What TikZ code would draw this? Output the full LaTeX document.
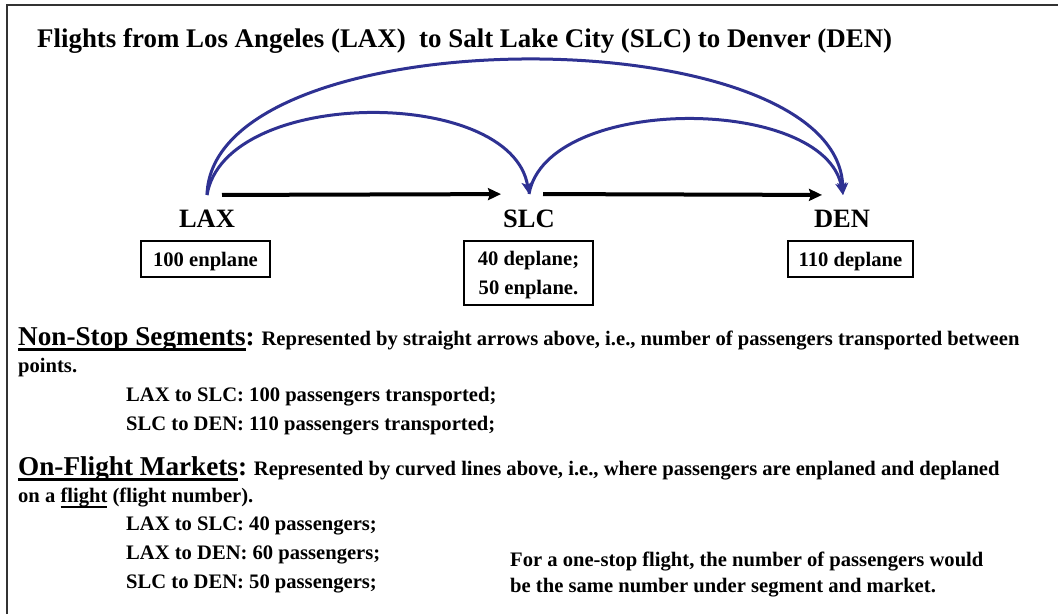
\documentclass[tikz,border=0pt]{standalone}
\usepackage{fontspec}
\setmainfont{Liberation Serif}
\usetikzlibrary{arrows.meta}
\definecolor{flightblue}{RGB}{46,49,146}
\definecolor{framegray}{RGB}{50,50,50}
\newcommand{\titlefont}{\fontsize{26.9}{32}\selectfont\bfseries}
\newcommand{\cityfont}{\fontsize{26.5}{30}\selectfont\bfseries}
\newcommand{\headfont}{\fontsize{27.2}{32}\selectfont\bfseries}
\newcommand{\bodyfont}{\fontsize{20.6}{29}\selectfont\bfseries}
\newsavebox{\ulbox}
\newcommand{\ulined}[2][2.4pt]{\sbox{\ulbox}{#2}\rlap{\rule[-5.5pt]{\wd\ulbox}{#1}}\usebox{\ulbox}}

\begin{document}
\begin{tikzpicture}[x=1pt,y=-1pt,
    city/.style={font=\cityfont, inner sep=0pt, anchor=base},
    countbox/.style={draw, line width=2pt, minimum height=36pt, font=\bodyfont, align=center, inner sep=0pt, text depth=0pt},
    textline/.style={font=\bodyfont, inner sep=0pt, anchor=base west},
    segment/.style={line width=4pt, -{Stealth[length=13pt,width=12pt,inset=2pt]}},
    market/.style={draw=flightblue, line width=3pt, -{Stealth[length=12pt,width=11pt,inset=3pt,fill=flightblue]}}]
    \useasboundingbox (0,0) rectangle (1058,614);
    % Frame
    \draw[framegray, line width=2.5pt] (7,614) -- (7,5) -- (1058,5);
    % Title
    \node[font=\titlefont, inner sep=0pt, anchor=base west] (title) at (37,47)
        {Flights from Los Angeles (LAX)\ \ to Salt Lake City (SLC) to Denver (DEN)};
    % Airports
    \node[city] (lax) at (207,227) {LAX};
    \node[city] (slc) at (529,227) {SLC};
    \node[city] (den) at (842,227) {DEN};
    \coordinate (laxPt) at (207,195);
    \coordinate (slcPt) at (529,194);
    \coordinate (denPt) at (843,195);
    % Enplane / deplane boxes
    \node[countbox, minimum width=129pt] (laxBox) at (205.5,259) {100 enplane};
    \node[countbox, minimum width=129pt, minimum height=64pt] (slcBox) at (528.5,273) {40 deplane;\\50 enplane.};
    \node[countbox, minimum width=125pt] (denBox) at (850.5,259) {110 deplane};
    % Non-stop segments
    \draw[segment, shorten <=15pt, shorten >=28pt] (laxPt) -- (slcPt);
    \draw[segment, shorten <=14pt, shorten >=21pt] (slcPt) -- (denPt);
    % On-flight markets
    \draw[market] (laxPt) .. controls +(18,-108) and +(-18,-108) .. (slcPt);
    \draw[market] (slcPt) .. controls +(18,-100) and +(-18,-100) .. (denPt);
    \draw[market] (laxPt) .. controls +(5,-180) and +(-5,-180) .. (denPt);
    % Explanation
    \node[textline] (nsHead) at (18,345)
        {{\headfont\ulined{Non-Stop Segments}:} Represented by straight arrows above, i.e., number of passengers transported between};
    \node[textline] (nsPoints) at (18,372) {points.};
    \node[textline] (nsLine1) at (126,401) {LAX to SLC: 100 passengers transported;};
    \node[textline] (nsLine2) at (126,430) {SLC to DEN: 110 passengers transported;};
    \node[textline] (ofHead) at (18,475)
        {{\headfont\ulined{On-Flight Markets}:} Represented by curved lines above, i.e., where passengers are enplaned and deplaned};
    \node[textline] (ofFlight) at (18,502) {on a \ulined[2pt]{flight} (flight number).};
    \node[textline] (ofLine1) at (126,530) {LAX to SLC: 40 passengers;};
    \node[textline] (ofLine2) at (126,559) {LAX to DEN: 60 passengers;};
    \node[textline] (ofLine3) at (126,588) {SLC to DEN: 50 passengers;};
    \node[textline] (noteA) at (510,566) {For a one-stop flight, the number of passengers would};
    \node[textline] (noteB) at (510,592) {be the same number under segment and market.};
\end{tikzpicture}
\end{document}
